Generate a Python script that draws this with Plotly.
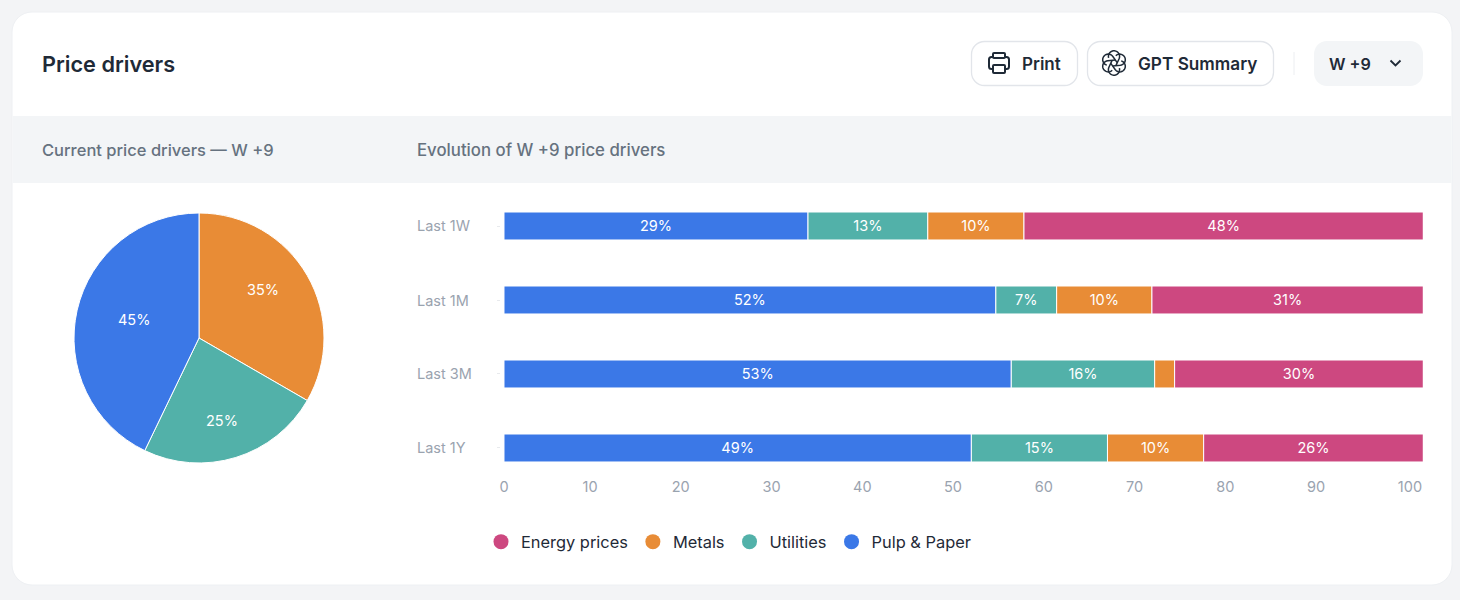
import numpy as np
import plotly.graph_objects as go

W, H = 1460, 600
FONT = "Inter"

# ---- data ----
periods = ["Last 1W", "Last 1M", "Last 3M", "Last 1Y"]
bar_start = 0.52
pulp_paper = [33.5, 54.2, 55.9, 51.5]
utilities = [13.2, 6.7, 15.8, 15.0]
metals = [10.6, 10.5, 2.2, 10.6]
energy = [44.0, 29.9, 27.4, 24.2]
pulp_labels = ["29%", "52%", "53%", "49%"]
util_labels = ["13%", "7%", "16%", "15%"]
metal_labels = ["10%", "10%", "", "10%"]
energy_labels = ["48%", "31%", "30%", "26%"]

pie_names = ["Metals", "Utilities", "Pulp & Paper"]
pie_values = [35, 25, 45]
pie_labels = ["35%", "25%", "45%"]
pie_label_spots = [(263, 289), (222, 420), (134, 319)]

x_ticks = [0.52, 10, 20, 30, 40, 50, 60, 70, 80, 90, 100.35]
x_tick_text = ["0", "10", "20", "30", "40", "50", "60", "70", "80", "90", "100"]

BLUE, TEAL, ORANGE, PINK = "#3b78e7", "#52b1a9", "#e88c36", "#cd4880"
INK, MUTED, AXIS = "#1f2a37", "#66727f", "#9aa3af"
BAND = "#f3f5f7"


def fx(x):
    return x / W


def fy(y):
    return 1 - y / H


def rrect(x0, y0, x1, y1, r):
    k = 0.45 * r
    pts = [
        f"M{fx(x0 + r)},{fy(y0)}", f"L{fx(x1 - r)},{fy(y0)}",
        f"C{fx(x1 - k)},{fy(y0)} {fx(x1)},{fy(y0 + k)} {fx(x1)},{fy(y0 + r)}",
        f"L{fx(x1)},{fy(y1 - r)}",
        f"C{fx(x1)},{fy(y1 - k)} {fx(x1 - k)},{fy(y1)} {fx(x1 - r)},{fy(y1)}",
        f"L{fx(x0 + r)},{fy(y1)}",
        f"C{fx(x0 + k)},{fy(y1)} {fx(x0)},{fy(y1 - k)} {fx(x0)},{fy(y1 - r)}",
        f"L{fx(x0)},{fy(y0 + r)}",
        f"C{fx(x0)},{fy(y0 + k)} {fx(x0 + k)},{fy(y0)} {fx(x0 + r)},{fy(y0)}", "Z",
    ]
    return " ".join(pts)


def box(x0, y0, x1, y1, r, fill="rgba(0,0,0,0)", line="rgba(0,0,0,0)", lw=0, layer="below"):
    return dict(type="path", xref="paper", yref="paper", path=rrect(x0, y0, x1, y1, r),
                fillcolor=fill, line=dict(color=line, width=lw), layer=layer)


def poly(points, color=INK, lw=2, closed=False):
    d = "M" + " L".join(f"{fx(a)},{fy(b)}" for a, b in points) + (" Z" if closed else "")
    return dict(type="path", xref="paper", yref="paper", path=d,
                line=dict(color=color, width=lw), layer="above")


def blade(cx, cy, angle):
    # one swirl blade of the knot icon: an arc round a lobe, then a straight run inward
    off, rad = 6.6, 5.6
    t = np.radians(np.linspace(-105, 115, 17))
    u = off + rad * np.cos(t)
    v = rad * np.sin(t)
    tx, ty = -np.sin(t[-1]), np.cos(t[-1])
    u = np.append(u, u[-1] + 7.5 * tx)
    v = np.append(v, v[-1] + 7.5 * ty)
    ca, sa = np.cos(angle), np.sin(angle)
    return poly(list(zip(cx + u * ca - v * sa, cy + u * sa + v * ca)), lw=1.5)


def label(text, x, y, size, color, weight=400, anchor="left"):
    nudge = -2 if anchor == "left" else 0
    return dict(text=text, x=fx(x + nudge), y=fy(y), xref="paper", yref="paper", showarrow=False,
                xanchor=anchor, yanchor="middle", align=anchor,
                font=dict(family=FONT, size=size, color=color, weight=weight))


fig = go.Figure()

fig.add_trace(go.Pie(
    labels=pie_names, values=pie_values, textinfo="none", sort=False,
    direction="clockwise", rotation=0, showlegend=False,
    marker=dict(colors=[ORANGE, TEAL, BLUE], line=dict(color="#ffffff", width=1)),
    domain=dict(x=[fx(74), fx(324)], y=[fy(463), fy(213)]),
))

start = np.full(len(periods), bar_start)
for name, vals, txt, col in [
    ("Pulp & Paper", pulp_paper, pulp_labels, BLUE),
    ("Utilities", utilities, util_labels, TEAL),
    ("Metals", metals, metal_labels, ORANGE),
    ("Energy prices", energy, energy_labels, PINK),
]:
    fig.add_trace(go.Bar(
        y=periods, x=vals, base=start.tolist(), orientation="h", name=name, text=txt, textposition="inside",
        insidetextanchor="middle", textangle=0, constraintext="none",
        textfont=dict(family=FONT, size=14.5, color="#ffffff"),
        marker=dict(color=col, line=dict(color="#ffffff", width=1)),
        showlegend=False,
    ))
    start = start + np.array(vals)

for name, col in [("Energy prices", PINK), ("Metals", ORANGE), ("Utilities", TEAL), ("Pulp & Paper", BLUE)]:
    fig.add_trace(go.Scatter(
        x=[None], y=[None], mode="markers", name=name,
        marker=dict(color=col, size=15, symbol="circle"),
    ))

shapes = [
    box(12, 12, 1452, 585, 20, fill="#ffffff", line="#eef0f3", lw=1),
    dict(type="rect", xref="paper", yref="paper", x0=fx(12.5), x1=fx(1451.5), y0=fy(183), y1=fy(116),
         fillcolor=BAND, line=dict(width=0), layer="below"),
    box(971.5, 41.5, 1077.5, 85.5, 13, fill="#ffffff", line="#e2e5ea", lw=1.3),
    box(1087.5, 41.5, 1273.5, 85.5, 13, fill="#ffffff", line="#e2e5ea", lw=1.3),
    box(1314, 41, 1423, 86, 13, fill=BAND),
    poly([(1294, 52), (1294, 75)], color="#eceef1", lw=1),
    # printer icon
    box(989, 57, 1009, 69, 2.5, line=INK, lw=2, layer="above"),
    box(993, 53, 1005, 58, 1, fill="#ffffff", line=INK, lw=2, layer="above"),
    box(993, 65, 1005, 73, 1, fill="#ffffff", line=INK, lw=2, layer="above"),
    # chevron
    poly([(1390.5, 60.5), (1395.5, 65.5), (1400.5, 60.5)], lw=1.8),
]
for k in range(6):
    shapes.append(blade(1114, 63, k * np.pi / 3 + np.pi / 6))

annotations = [
    label("Price drivers", 42, 63.8, 21.7, INK, 600),
    label("Print", 1022, 63.5, 17, INK, 600),
    label("GPT Summary", 1138, 63.5, 17.2, INK, 600),
    label("W +9", 1329, 63.5, 16.2, INK, 600),
    label("Current price drivers — W +9", 42, 149.5, 16.5, MUTED, 500),
    label("Evolution of W +9 price drivers", 417, 149.5, 16.8, MUTED, 500),
]
for p in periods:
    annotations.append(dict(text=p, x=fx(415), y=p, xref="paper", yref="y", showarrow=False,
                            xanchor="left", yanchor="middle",
                            font=dict(family=FONT, size=14.5, color=AXIS)))
for t, (lx, ly) in zip(pie_labels, pie_label_spots):
    annotations.append(label(t, lx, ly, 14.5, "#ffffff", anchor="center"))

fig.update_layout(
    width=W, height=H, margin=dict(l=0, r=0, t=0, b=0, pad=0, autoexpand=False),
    paper_bgcolor="#f3f4f6", plot_bgcolor="rgba(0,0,0,0)",
    barmode="overlay", bargap=0.622,
    font=dict(family=FONT),
    shapes=shapes, annotations=annotations,
    xaxis=dict(domain=[fx(501), fx(1423)], range=[0.19, 101.79], tickvals=x_ticks, ticktext=x_tick_text,
               showgrid=False, zeroline=False, showline=False, ticks="", ticklabelstandoff=1,
               tickfont=dict(family=FONT, size=14.5, color=AXIS), anchor="y"),
    yaxis=dict(domain=[fy(475), fy(189)], type="category", categoryorder="array", categoryarray=periods,
               range=[3.365, -0.5], showgrid=False, zeroline=False, showline=False,
               showticklabels=False, ticks="outside", ticklen=3, tickcolor="#e8eaed", anchor="x"),
    legend=dict(orientation="h", x=fx(481), y=fy(542), xanchor="left", yanchor="middle",
                bgcolor="rgba(0,0,0,0)", itemsizing="trace", itemwidth=30, traceorder="normal",
                font=dict(family=FONT, size=16.4, color=INK)),
    hovermode=False,
)

fig.write_html("out.html", config=dict(displayModeBar=False),
               post_script="document.body.style.margin='0';document.body.style.overflow='hidden';document.body.style.background='#f3f4f6';")
